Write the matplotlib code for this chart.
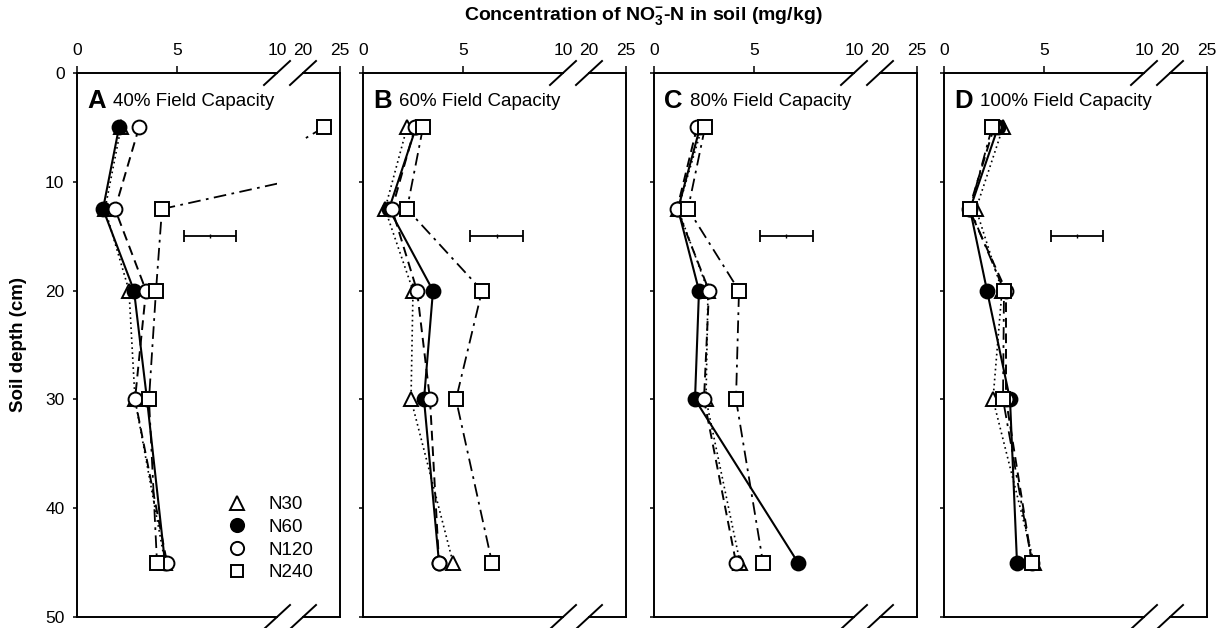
import matplotlib
matplotlib.use("Agg")
import matplotlib.pyplot as plt
from matplotlib.lines import Line2D

plt.rcParams["font.family"] = ["Liberation Sans", "DejaVu Sans"]
plt.rcParams["mathtext.fontset"] = "custom"
plt.rcParams["mathtext.rm"] = "Liberation Sans"
plt.rcParams["mathtext.bf"] = "Liberation Sans:bold"

# Soil depths (cm) of the samples
DEPTH = [5, 12.5, 20, 30, 45]
SERIES = ["N30", "N60", "N120", "N240"]
PANEL_LETTERS = ["A", "B", "C", "D"]
PANEL_TITLES = ["40% Field Capacity", "60% Field Capacity",
                "80% Field Capacity", "100% Field Capacity"]

# NO3--N concentration (mg/kg)
A_N30 = [2.2, 1.4, 2.6, 2.9, 4.4]
A_N60 = [2.1, 1.3, 2.85, 3.5, 4.4]
A_N120 = [3.1, 1.9, 3.45, 2.9, 4.5]
A_N240 = [22.8, 4.25, 3.95, 3.6, 4.0]

B_N30 = [2.2, 1.1, 2.5, 2.4, 4.5]
B_N60 = [2.65, 1.3, 3.5, 3.05, 3.8]
B_N120 = [2.6, 1.45, 2.7, 3.35, 3.8]
B_N240 = [3.0, 2.2, 5.95, 4.65, 6.45]

C_N30 = [2.4, 1.2, 2.7, 2.6, 4.3]
C_N60 = [2.3, 1.2, 2.25, 2.05, 7.2]
C_N120 = [2.15, 1.15, 2.75, 2.5, 4.1]
C_N240 = [2.55, 1.7, 4.25, 4.1, 5.45]

D_N30 = [2.95, 1.6, 2.9, 2.45, 4.5]
D_N60 = [2.7, 1.3, 2.15, 3.3, 3.65]
D_N120 = [2.5, 1.25, 3.1, 3.1, 4.4]
D_N240 = [2.4, 1.3, 3.0, 2.95, 4.4]

# LSD bar: centre and half-width (mg/kg) at depth 15 cm
LSD_X = [6.65, 6.68, 6.62, 6.65]
LSD_HALF = [1.32, 1.32, 1.32, 1.3]
LSD_DEPTH = 15

PANELS = [
    [A_N30, A_N60, A_N120, A_N240],
    [B_N30, B_N60, B_N120, B_N240],
    [C_N30, C_N60, C_N120, C_N240],
    [D_N30, D_N60, D_N120, D_N240],
]

STYLE = {
    "N30": dict(ls=(0, (1, 2)), lw=1.2, marker="^", mfc="white", ms=10),
    "N60": dict(ls="-", lw=1.5, marker="o", mfc="black", ms=10),
    "N120": dict(ls=(0, (5, 3)), lw=1.4, marker="o", mfc="white", ms=10),
    "N240": dict(ls=(0, (7, 3, 1.5, 3)), lw=1.3, marker="s", mfc="white", ms=9.5),
}

W, H = 1229, 628
TOP, BOT = 73, 617
PANEL_LEFT = [77, 363, 654, 944]
FS = 12.5


def fx(px):
    return px / W


def fy(py):
    return 1 - py / H


fig = plt.figure(figsize=(W / 100, H / 100), dpi=100)

for i, vals in enumerate(PANELS):
    l = PANEL_LEFT[i]
    ax_l = fig.add_axes([fx(l), fy(BOT), 200 / W, (BOT - TOP) / H])
    ax_r = fig.add_axes([fx(l + 226), fy(BOT), 37 / W, (BOT - TOP) / H])
    ax_l.set_xlim(0, 10)
    ax_r.set_xlim(20, 25)
    for ax in (ax_l, ax_r):
        ax.set_ylim(50, 0)
        ax.patch.set_alpha(0)
        for s in ax.spines.values():
            s.set_linewidth(1.4)
        ax.xaxis.tick_top()
        ax.tick_params(axis="x", which="major", direction="out", length=5,
                       width=1.1, pad=6, labelsize=FS)
        ax.tick_params(axis="x", which="minor", length=0, pad=11,
                       labelsize=FS, top=True, labeltop=True)
    ax_l.spines["right"].set_visible(False)
    ax_r.spines["left"].set_visible(False)

    ax_l.set_xticks([0, 5])
    ax_l.set_xticks([10], labels=["10"], minor=True)
    ax_r.set_xticks([25])
    ax_r.set_xticks([20], labels=["20"], minor=True)
    ax_r.set_yticks([])

    ax_l.set_yticks([0, 10, 20, 30, 40, 50])
    ax_l.tick_params(axis="y", direction="out", length=3, width=1.1,
                     pad=6, labelsize=FS, labelleft=(i == 0))

    # lines first, then markers on top
    for ax in (ax_l, ax_r):
        for name, xs in zip(SERIES, vals):
            st = STYLE[name]
            ax.plot(xs, DEPTH, color="black", ls=st["ls"], lw=st["lw"], zorder=2)
        for name, xs in zip(SERIES, vals):
            st = STYLE[name]
            ax.plot(xs, DEPTH, ls="none", marker=st["marker"], ms=st["ms"],
                    mfc=st["mfc"], mec="black", mew=1.4, zorder=3)

    ax_l.errorbar([LSD_X[i]], [LSD_DEPTH], xerr=[LSD_HALF[i]], fmt="none",
                  ecolor="black", elinewidth=1.3, capsize=4.5, capthick=1.3)
    ax_l.plot([LSD_X[i]], [LSD_DEPTH], marker="|", ms=3, color="black", mew=1)

    # axis break marks
    for cx in (l + 200, l + 226):
        for cy in (TOP, BOT):
            fig.add_artist(Line2D([fx(cx - 13), fx(cx + 13)],
                                  [fy(cy + 12), fy(cy - 12)],
                                  transform=fig.transFigure, color="black", lw=1.4))

    fig.text(fx(l + 10), fy(108), PANEL_LETTERS[i], fontsize=18.5,
             fontweight="bold", va="baseline", ha="left")
    fig.text(fx(l + 36), fy(106), PANEL_TITLES[i], fontsize=13.5,
             va="baseline", ha="left")

    if i == 0:
        handles = [Line2D([], [], ls="none", marker=STYLE[n]["marker"],
                          ms=STYLE[n]["ms"] * 0.95, mfc=STYLE[n]["mfc"],
                          mec="black", mew=1.4) for n in SERIES]
        ax_l.legend(handles, SERIES, loc="upper left",
                    bbox_to_anchor=(fx(229), fy(496)),
                    bbox_transform=fig.transFigure, frameon=False,
                    fontsize=13.5, handlelength=0.9, handletextpad=1.2,
                    labelspacing=0.3, borderpad=0, borderaxespad=0)

fig.text(fx(643), fy(17),
         r"Concentration of NO$_{\mathbf{3}}^{\mathbf{-}}$-N in soil (mg/kg)",
         fontsize=14, fontweight="bold", ha="center", va="center")
fig.text(fx(19), fy(345), "Soil depth (cm)", fontsize=13.5, fontweight="bold",
         rotation=90, ha="center", va="center")

fig.savefig("out.png", dpi=100)
